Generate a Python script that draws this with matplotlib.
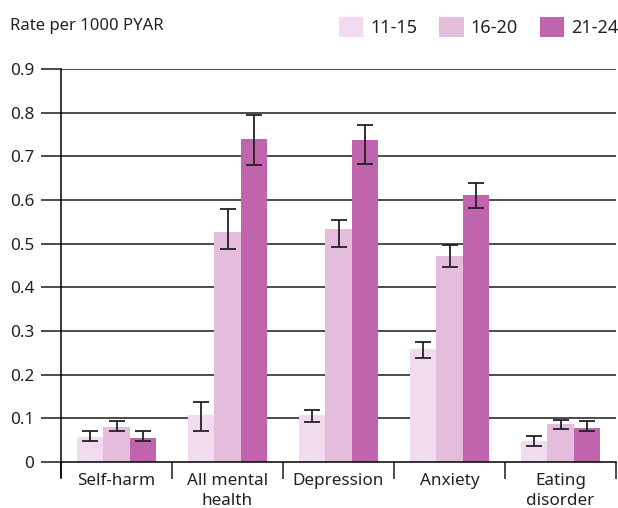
import numpy as np
import matplotlib
matplotlib.use('Agg')
import matplotlib.pyplot as plt
from matplotlib.patches import Patch

plt.rcParams['font.family'] = ['Noto Sans', 'DejaVu Sans']

categories = ['Self-harm', 'All mental\nhealth', 'Depression', 'Anxiety', 'Eating\ndisorder']
groups = ['11-15', '16-20', '21-24']

# rate per 1000 PYAR, with lower / upper CI
rate_11_15 = [0.057, 0.107, 0.107, 0.258, 0.047]
low_11_15 = [0.049, 0.070, 0.092, 0.239, 0.037]
high_11_15 = [0.070, 0.138, 0.118, 0.274, 0.059]

rate_16_20 = [0.081, 0.526, 0.533, 0.471, 0.086]
low_16_20 = [0.072, 0.487, 0.492, 0.446, 0.076]
high_16_20 = [0.094, 0.579, 0.554, 0.497, 0.097]

rate_21_24 = [0.056, 0.739, 0.737, 0.611, 0.079]
low_21_24 = [0.049, 0.681, 0.683, 0.581, 0.072]
high_21_24 = [0.070, 0.794, 0.771, 0.638, 0.094]

yticks = [0, 0.1, 0.2, 0.3, 0.4, 0.5, 0.6, 0.7, 0.8, 0.9]
colors = ['#f2dbee', '#e4bcdc', '#c164ae']
txt = '#222222'

fig = plt.figure(figsize=(6.18, 5.08), dpi=100)
ax = fig.add_axes([61/618, 1-462/508, 555/618, 393/508])

x = np.arange(len(categories)) + 0.5
w = 0.24
series = [(rate_11_15, low_11_15, high_11_15),
          (rate_16_20, low_16_20, high_16_20),
          (rate_21_24, low_21_24, high_21_24)]

# gridlines behind the bars
for yv in yticks[1:]:
    ax.axhline(yv, color='#1a1a1a', lw=1.1, zorder=0)

for i, (r, lo, hi) in enumerate(series):
    r = np.array(r)
    err = [r - np.array(lo), np.array(hi) - r]
    pos = x + (i - 1) * w
    ax.bar(pos, r, width=w, color=colors[i], zorder=2)
    ax.errorbar(pos, r, yerr=err, fmt='none', ecolor='#222222', elinewidth=1.3,
                capsize=5.5, capthick=1.3, zorder=3)

ax.set_xlim(0, 5)
ax.set_ylim(0, 0.9)
ax.set_yticks(yticks)
ax.set_yticklabels(['0' if v == 0 else f'{v:.1f}' for v in yticks])
ax.tick_params(axis='y', length=14.4, width=1.1, color='#1a1a1a', pad=5, labelsize=12.3, labelcolor=txt)

ax.set_xticks(x)
ax.set_xticklabels(categories, linespacing=1.32)
ax.set_xticks(np.arange(0, 6), minor=True)
ax.tick_params(axis='x', which='major', length=0, pad=8, labelsize=12.3, labelcolor=txt)
ax.tick_params(axis='x', which='minor', length=12.2, width=1.1, color='#1a1a1a')

for s in ['top', 'right']:
    ax.spines[s].set_visible(False)
ax.spines['left'].set_linewidth(1.1)
ax.spines['bottom'].set_linewidth(1.1)
ax.spines['left'].set_bounds(-0.035, 0.9)

fig.text(10/618, 1-29.5/508, 'Rate per 1000 PYAR', fontsize=12, color=txt, va='baseline')

handles = [Patch(facecolor=c, edgecolor='none') for c in colors]
fig.legend(handles, groups, loc='center right', bbox_to_anchor=(618/618, 1-27/508), ncol=3, frameon=False,
           fontsize=13, handlelength=1.37, handleheight=1.35, handletextpad=0.36,
           columnspacing=1.22, borderaxespad=0, borderpad=0, labelcolor=txt)

fig.savefig('out.png', dpi=100)
